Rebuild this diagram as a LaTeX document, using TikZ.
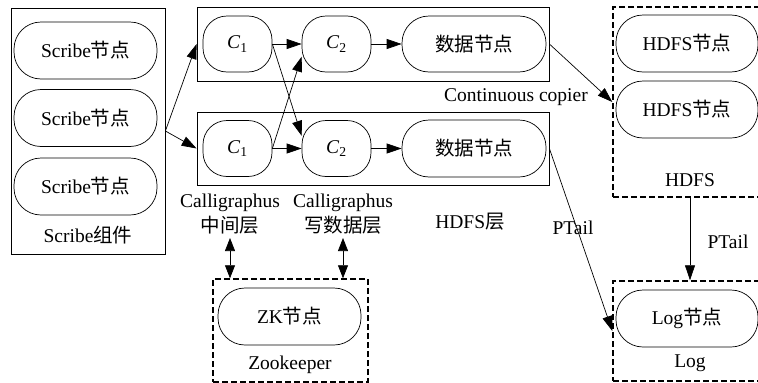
\documentclass[tikz,border=0pt]{standalone}
\usepackage{fontspec}
\setmainfont{Liberation Serif}
\newfontfamily\cjk{Noto Sans CJK SC}
\usetikzlibrary{arrows.meta}
\begin{document}
\begin{tikzpicture}[x=1pt,y=-1pt,
  font=\fontsize{19.5}{25}\selectfont,
  frame/.style={draw, line width=0.8pt, inner sep=0pt},
  dbox/.style={draw, line width=1.4pt, dash pattern=on 6pt off 3pt, inner sep=0pt},
  pill/.style={draw, line width=0.7pt, rounded corners=27pt, minimum height=57pt, inner sep=0pt},
  cpill/.style={draw, line width=0.7pt, rounded corners=24pt, minimum width=69pt, minimum height=56pt, inner sep=0pt},
  lab/.style={inner sep=0pt, align=center},
  arr/.style={line width=0.7pt, -{Triangle[length=15pt,width=10pt]}},
  darr/.style={line width=0.7pt, {Triangle[length=13pt,width=10pt]}-{Triangle[length=13pt,width=10pt]}}
]
\useasboundingbox (0,0) rectangle (758,383);
\clip (0,0) rectangle (758,383);
\fill[white] (0,0) rectangle (758,383);

% Scribe component
\node[frame, minimum width=154pt, minimum height=246pt] (scribebox) at (88,131) {};
\node[pill, minimum width=143pt] (s1) at (85.5,50.5) {Scribe{\cjk 节点}};
\node[pill, minimum width=143pt] (s2) at (85.5,118) {Scribe{\cjk 节点}};
\node[pill, minimum width=143pt] (s3) at (85.5,186.5) {Scribe{\cjk 节点}};
\node[lab] (scribelab) at (88,235) {Scribe{\cjk 组件}};

% Calligraphus groups
\node[frame, minimum width=352pt, minimum height=74pt] (topbox) at (373,44) {};
\node[frame, minimum width=352pt, minimum height=73pt] (lowbox) at (373,148.5) {};
\node[cpill] (tc1) at (237.5,44) {\textit{C}\textsubscript{1}};
\node[cpill] (tc2) at (336.5,44) {\textit{C}\textsubscript{2}};
\node[pill, minimum width=144pt, minimum height=56pt] (td) at (474,44) {{\cjk 数据节点}};
\node[cpill] (lc1) at (237.5,148.5) {\textit{C}\textsubscript{1}};
\node[cpill] (lc2) at (336.5,148.5) {\textit{C}\textsubscript{2}};
\node[pill, minimum width=144pt] (ld) at (474,148.5) {{\cjk 数据节点}};

\node[lab] (copier) at (516,97) {Continuous copier};
\node[lab] (cal1) at (230,214.5) {Calligraphus\\{\cjk 中间层}};
\node[lab] (cal2) at (343,214.5) {Calligraphus\\{\cjk 写数据层}};
\node[lab] (hdfslayer) at (470,222) {HDFS{\cjk 层}};
\node[lab] (ptail1) at (573,228) {PTail};
\node[lab] (ptail2) at (728,242) {PTail};

% HDFS
\node[dbox, minimum width=154pt, minimum height=190pt] (hdfsbox) at (690,102) {};
\node[pill, minimum width=142pt] (h1) at (687,43.5) {HDFS{\cjk 节点}};
\node[pill, minimum width=142pt] (h2) at (687,109.5) {HDFS{\cjk 节点}};
\node[lab] (hdfslab) at (690,180) {HDFS};

% Log
\node[dbox, minimum width=154pt, minimum height=100pt] (logbox) at (690,331) {};
\node[pill, minimum width=142pt] (lg) at (687,318.5) {Log{\cjk 节点}};
\node[lab] (loglab) at (690,363) {Log};

% Zookeeper
\node[dbox, minimum width=155pt, minimum height=103pt] (zkbox) at (290.5,330.5) {};
\node[pill, minimum width=143pt] (zk) at (289.5,316.5) {ZK{\cjk 节点}};
\node[lab] (zklab) at (290,365) {Zookeeper};

% connectors
\draw[arr] (scribebox.east) -- (topbox.west);
\draw[arr] (scribebox.east) -- (lowbox.west);
\draw[arr] (tc1.east) -- (tc2.west);
\draw[arr] (tc2.east) -- (td.west);
\draw[arr] (lc1.east) -- (lc2.west);
\draw[arr] (lc2.east) -- (ld.west);
\draw[arr] (tc1.east) -- (lc2.160);
\draw[arr] (lc1.east) -- (tc2.200);
\draw[arr] (topbox.east) -- (hdfsbox.west);
\draw[arr] (lowbox.east) -- (logbox.west);
\draw[arr] (hdfsbox.south) -- (logbox.north);
\coordinate (z1) at (230,238);
\coordinate (z2) at (343,238);
\draw[darr] (z1) -- (z1 |- zkbox.north);
\draw[darr] (z2) -- (z2 |- zkbox.north);
\end{tikzpicture}
\end{document}
